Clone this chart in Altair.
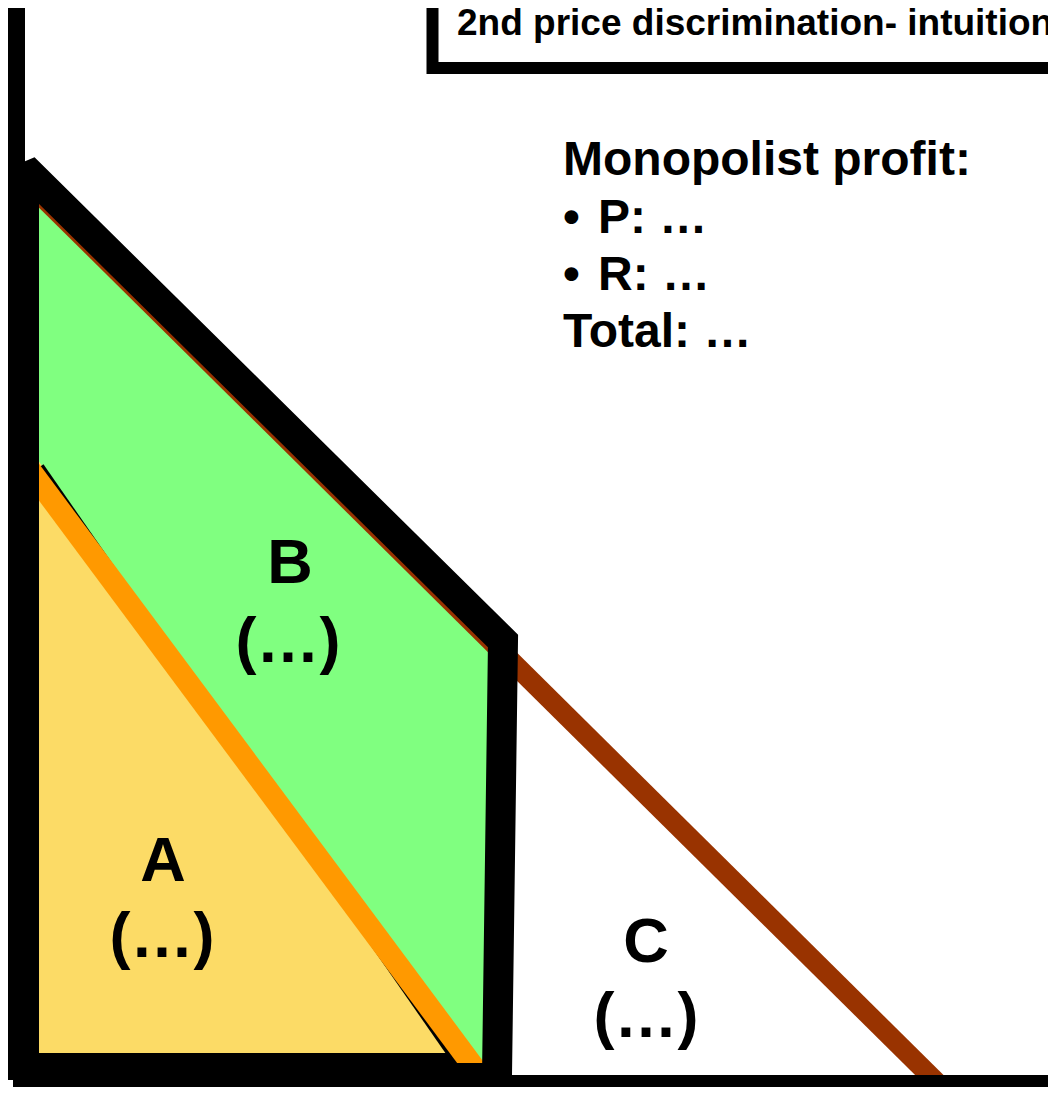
import altair as alt
import pandas as pd

# ---- diagram values (reference pixel space: x right, y down) ----
# green region B: top along demand line, bottom along orange line
green_x = [38, 471, 490]
green_top = [192.6, 621.3, 640.1]
green_bottom = [480.8, 1063, 1063]

# yellow region A
yellow_x = [38, 450]
yellow_top = [460, 1053]
yellow_bottom = [1053, 1053]

# lines (start/end points)
hyp_x, hyp_y = [41, 456], [466, 1063]
band_x, band_y = [30, 470], [1058, 1058]
orange_x, orange_y = [20, 476], [456.6, 1070]
demand_x, demand_y = [20, 949.5], [174.8, 1095]
outline_x = [24, 24, 503, 497]
outline_y = [1075, 168, 641, 1075]
outline_bottom_x, outline_bottom_y = [10, 505], [1069, 1069]
vaxis_x, vaxis_y = [14, 14], [6, 1080]
haxis_x, haxis_y = [13, 1100], [1085, 1085]

# title box
box_x, box_y = [432.5, 1200], [-100, 68]

# texts
title_text = ["2nd price discrimination- intuition"]
title_x, title_y = [457], [35]

profit_text = ["Monopolist profit:", "P: \u2026", "R: \u2026", "Total: \u2026"]
profit_x = [563, 598, 598, 563]
profit_y = [175, 233, 290, 347]
bullet_text = ["\u2022", "\u2022"]
bullet_x = [563, 563]
bullet_y = [233, 290]

region_text = ["A", "B", "C"]
region_x = [163, 290, 646]
region_y = [881, 583, 962]
value_text = ["(\u2026)", "(\u2026)", "(\u2026)"]
value_x = [162, 288, 646]
value_y = [957, 662, 1037]

XS = alt.Scale(domain=[8, 1048], nice=False, zero=False)
YS = alt.Scale(domain=[8, 1087], nice=False, zero=False, reverse=True)


def xe(f="x"):
    return alt.X(f"{f}:Q", scale=XS, axis=None)


def ye(f="y"):
    return alt.Y(f"{f}:Q", scale=YS, axis=None)


def seg(xs, ys, color, width):
    df = pd.DataFrame({"x": [xs[0]], "y": [ys[0]], "x2": [xs[1]], "y2": [ys[1]]})
    return alt.Chart(df).mark_rule(color=color, strokeWidth=width, strokeCap="butt").encode(
        x=xe(), y=ye(), x2="x2:Q", y2="y2:Q"
    )


green = alt.Chart(pd.DataFrame({"x": green_x, "y": green_top, "y2": green_bottom})).mark_area(
    color="#80FF80", opacity=1
).encode(x=xe(), y=ye(), y2="y2:Q")

yellow = alt.Chart(pd.DataFrame({"x": yellow_x, "y": yellow_top, "y2": yellow_bottom})).mark_area(
    color="#FCDB66", opacity=1
).encode(x=xe(), y=ye(), y2="y2:Q")

hyp = seg(hyp_x, hyp_y, "black", 6)
band = seg(band_x, band_y, "black", 10)
orange = seg(orange_x, orange_y, "#FF9900", 22)
demand = seg(demand_x, demand_y, "#993300", 20)

outline = alt.Chart(
    pd.DataFrame({"x": outline_x, "y": outline_y, "i": list(range(len(outline_x)))})
).mark_line(
    color="black", strokeWidth=30, strokeJoin="miter", strokeMiterLimit=2, strokeCap="butt"
).encode(x=xe(), y=ye(), order=alt.Order("i:Q"))

outline_bottom = seg(outline_bottom_x, outline_bottom_y, "black", 12)
vaxis = seg(vaxis_x, vaxis_y, "black", 22)
haxis = seg(haxis_x, haxis_y, "black", 20)

box = alt.Chart(
    pd.DataFrame({"x": [box_x[0]], "x2": [box_x[1]], "y": [box_y[0]], "y2": [box_y[1]]})
).mark_rect(fill="white", stroke="black", strokeWidth=12).encode(
    x=xe(), x2="x2:Q", y=ye(), y2="y2:Q"
)

FONT = "Liberation Sans"


def texts(labels, xs, ys, size, align="left"):
    df = pd.DataFrame({"t": labels, "x": xs, "y": ys})
    return alt.Chart(df).mark_text(
        align=align, baseline="alphabetic", font=FONT, fontWeight="bold",
        fontSize=size, color="black"
    ).encode(x=xe(), y=ye(), text="t:N")


title = texts(title_text, title_x, title_y, 37)
profit = texts(profit_text, profit_x, profit_y, 48)
bullets = texts(bullet_text, bullet_x, bullet_y, 48)
regions = texts(region_text, region_x, region_y, 63, align="center")
values = texts(value_text, value_x, value_y, 63, align="center")

chart = alt.layer(
    green, yellow, hyp, band, orange, demand, outline, outline_bottom,
    vaxis, haxis, box, title, profit, bullets, regions, values
).properties(
    width=1040, height=1079, padding=0,
    autosize=alt.AutoSizeParams(type="none"),
    background="white",
).configure_view(stroke=None)

chart.save("out.html", embed_options={"renderer": "svg", "actions": False})
